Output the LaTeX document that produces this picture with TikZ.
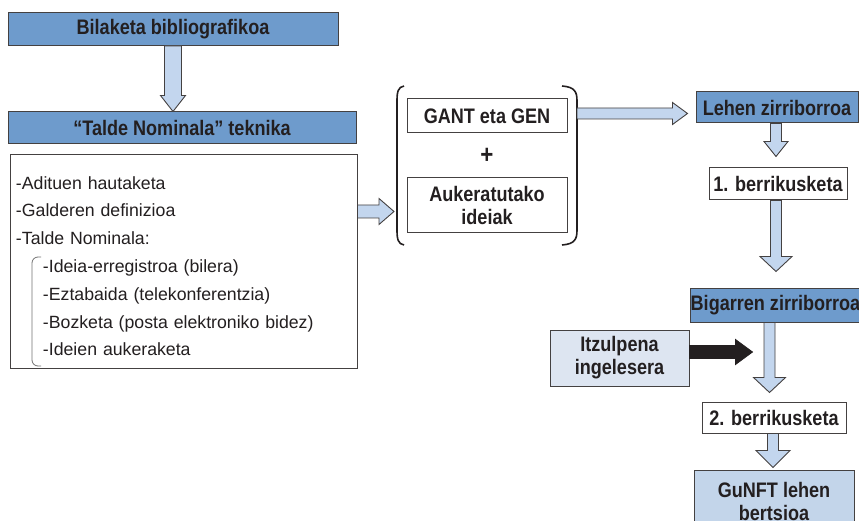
\documentclass[tikz,border=0pt]{standalone}
\usepackage{fontspec}
\setmainfont{Liberation Sans}
\newfontfamily\headfont[FakeStretch=0.86]{Liberation Sans Bold}
\usetikzlibrary{calc}

\definecolor{headblue}{HTML}{6E9BCC}
\definecolor{arrowblue}{HTML}{C3D6EE}
\definecolor{paleblue}{HTML}{DDE5F1}
\definecolor{softblue}{HTML}{C3D5EA}
\definecolor{inkdark}{HTML}{231F20}

% block arrows: [style]{start}{tip}{half shaft}{half head}{head length}
\newcommand{\fatdown}[6][fatarr]{%
  \draw[#1] let \p1=(#2), \p2=(#3) in
    (\x1-#4pt,\y1) -- (\x1+#4pt,\y1) -- (\x1+#4pt,\y2+#6pt) -- (\x1+#5pt,\y2+#6pt)
    -- (\x1,\y2) -- (\x1-#5pt,\y2+#6pt) -- (\x1-#4pt,\y2+#6pt) -- cycle;}
\newcommand{\fatright}[6][fatarr]{%
  \draw[#1] let \p1=(#2), \p2=(#3) in
    (\x1,\y1+#4pt) -- (\x2-#6pt,\y1+#4pt) -- (\x2-#6pt,\y1+#5pt) -- (\x2,\y1)
    -- (\x2-#6pt,\y1-#5pt) -- (\x2-#6pt,\y1-#4pt) -- (\x1,\y1-#4pt) -- cycle;}

\begin{document}
\begin{tikzpicture}[x=1pt, y=-1pt,
    hdbox/.style={draw=inkdark!85, line width=1pt, fill=headblue, inner sep=0pt,
                  align=center, text=inkdark, font=\headfont\fontsize{21}{23}\selectfont},
    wbox/.style={hdbox, fill=white},
    lbox/.style={hdbox, fill=softblue},
    pbox/.style={hdbox, fill=paleblue},
    listbox/.style={draw=inkdark!85, line width=1pt, fill=white, inner xsep=5pt,
                    align=left, text=inkdark, font=\fontsize{17.7}{27.8}\selectfont},
    fatarr/.style={draw=inkdark!85, line width=0.9pt, fill=arrowblue},
    blackarr/.style={draw=inkdark, line width=0.8pt, fill=inkdark},
    paren/.style={draw=inkdark, line width=1.6pt},
    subbrace/.style={draw=black!55, line width=0.8pt, rounded corners=6pt},
]
\useasboundingbox (0,0) rectangle (859,521);

% left column
\node[hdbox, minimum width=330pt, minimum height=33pt] (bib) at (173,29) {Bilaketa bibliografikoa};
\node[hdbox, minimum width=348pt, minimum height=32pt] (tnt) at (182,128) {“Talde Nominala” teknika};
\node[listbox, minimum width=347pt, minimum height=213pt, text width=335pt] (list) at (183.5,261.5)
    {\rule{0pt}{22pt}-Adituen hautaketa\\
     -Galderen definizioa\\
     -Talde Nominala:\\
     \hspace*{27pt}-Ideia-erregistroa (bilera)\\
     \hspace*{27pt}-Eztabaida (telekonferentzia)\\
     \hspace*{27pt}-Bozketa (posta elektroniko bidez)\\
     \hspace*{27pt}-Ideien aukeraketa};
\draw[subbrace] (41,257) -- (32,257) -- (32,366) -- (41,366);

% middle group
\node[wbox, minimum width=160pt, minimum height=34pt] (gant) at (487,116) {GANT eta GEN};
\node[text=inkdark, font=\headfont\fontsize{26}{26}\selectfont] (plus) at (487,156) {+};
\node[wbox, minimum width=160pt, minimum height=55pt] (auk) at (487,205.5) {Aukeratutako\\ideiak};
\draw[paren] (404,86) .. controls (398,87) and (397,92) .. (397,101) -- (397,230)
    .. controls (397,239) and (398,244) .. (404,245);
\draw[paren] (562,86) .. controls (575,87) and (577,92) .. (577,101) -- (577,230)
    .. controls (577,239) and (575,244) .. (562,245);
\coordinate (lparen) at (394,211.5);
\coordinate (rparen) at (577,113.5);

% right column
\node[hdbox, minimum width=162pt, minimum height=31pt] (lehen) at (777,107.5) {Lehen zirriborroa};
\node[wbox, minimum width=138pt, minimum height=32pt] (ber1) at (778,184) {1. berrikusketa};
\node[hdbox, minimum width=165pt, minimum height=33pt] (big) at (775.5,305.5) {Bigarren zirriborroa};
\node[pbox, minimum width=139pt, minimum height=56pt] (itz) at (619.5,358) {Itzulpena\\ingelesera};
\node[wbox, minimum width=144pt, minimum height=31pt] (ber2) at (774,417.5) {2. berrikusketa};
\node[lbox, minimum width=160pt, minimum height=62pt] (gunft) at (774,501) {GuNFT lehen\\bertsioa};

% arrows
\fatdown{bib.south}{tnt.north}{8.5}{12.5}{16}
\fatright{list.east |- lparen}{lparen}{6.5}{13}{15}
\fatright{rparen}{$(lehen.west)+(-8,0)$}{5.5}{11}{15}
\fatdown{$(lehen.south)+(-1,0)$}{$(ber1.north)+(0,-11)$}{5.5}{12}{15}
\fatdown{$(ber1.south)+(-2,0)$}{$(big.north)+(0,-17)$}{5.5}{16}{15}
\fatdown{$(big.south)+(-6,0)$}{$(ber2.north)+(0,-9)$}{5.5}{16}{15}
\fatdown{$(ber2.south)+(-1,0)$}{$(gunft.north)+(0,-2)$}{5.5}{17}{17}
\fatright[blackarr]{$(itz.east)+(0,-6)$}{$(itz.east)+(63,0)$}{6.5}{12.5}{17}

\end{tikzpicture}
\end{document}
